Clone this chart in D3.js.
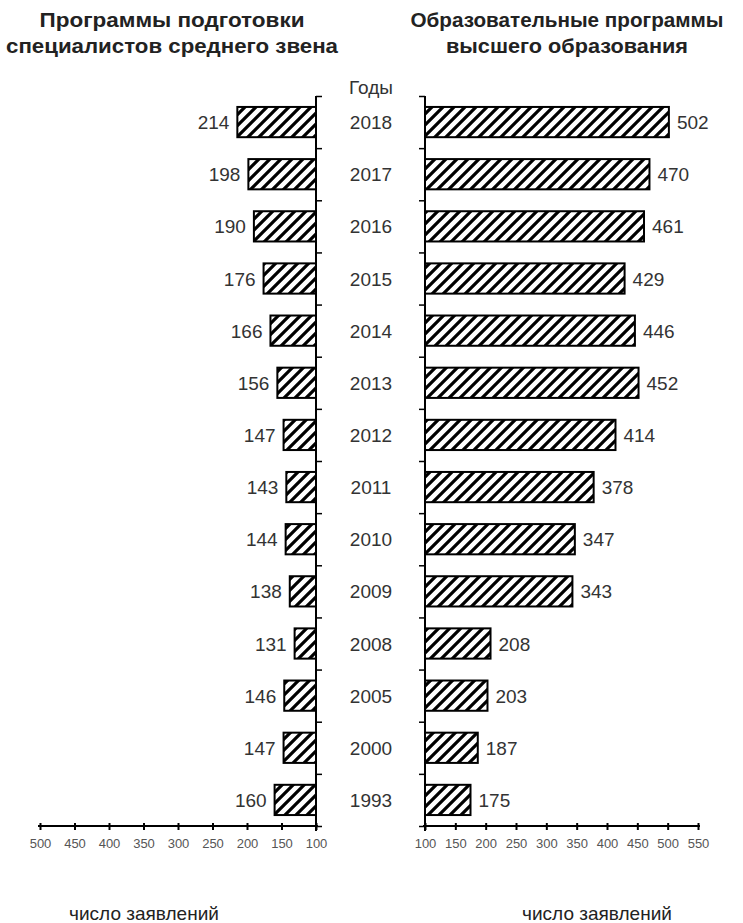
<!DOCTYPE html>
<html>
<head>
<meta charset="utf-8">
<script src="https://cdnjs.cloudflare.com/ajax/libs/d3/7.8.5/d3.min.js"></script>
<style>
  body { margin: 0; background: #fff; }
  svg text { font-family: "Liberation Sans", Arial, sans-serif; }
</style>
</head>
<body>
<script>
// data (top to bottom)
var years = ["2018", "2017", "2016", "2015", "2014", "2013", "2012", "2011", "2010", "2009", "2008", "2005", "2000", "1993"];
var spoValues = [214, 198, 190, 176, 166, 156, 147, 143, 144, 138, 131, 146, 147, 160];
var voValues = [502, 470, 461, 429, 446, 452, 414, 378, 347, 343, 208, 203, 187, 175];
var leftTicks = [500, 450, 400, 350, 300, 250, 200, 150, 100];
var rightTicks = [100, 150, 200, 250, 300, 350, 400, 450, 500, 550];

var width = 743, height = 923;

var svg = d3.select("body").append("svg")
    .attr("width", width)
    .attr("height", height);

// hatch fill
var defs = svg.append("defs");
defs.append("pattern")
    .attr("id", "hatch")
    .attr("patternUnits", "userSpaceOnUse")
    .attr("width", 11).attr("height", 11)
  .append("path")
    .attr("d", "M0,11 L11,0 M-3,3 L3,-3 M8,14 L14,8")
    .attr("stroke", "#000")
    .attr("stroke-width", 3.2);

var yTop = 96, yBottom = 826;

var y = d3.scaleBand()
    .domain(years)
    .range([yTop, yBottom])
    .paddingInner(0.42)
    .paddingOuter(0.21);

// band boundaries for the small ticks on the vertical axes
var yEdge = d3.scaleLinear().domain([0, years.length]).range([yTop, yBottom]);

var xL = d3.scaleLinear().domain([500, 100]).range([40, 316]);
var xR = d3.scaleLinear().domain([100, 550]).range([425, 698]);

// titles
function title(cx, lines, lens) {
  var t = svg.append("text")
      .attr("text-anchor", "middle")
      .style("font-size", "20px").style("font-weight", "bold").attr("fill", "#222");
  lines.forEach(function(s, i) {
    t.append("tspan")
      .attr("x", cx).attr("y", 27 + i * 26)
      .attr("textLength", lens[i]).attr("lengthAdjust", "spacingAndGlyphs")
      .text(s);
  });
}
title(172, ["Программы подготовки", "специалистов среднего звена"], [265, 332]);
title(567, ["Образовательные программы", "высшего образования"], [313, 242]);

svg.append("text")
    .attr("x", 371).attr("y", 94)
    .attr("text-anchor", "middle")
    .style("font-size", "19px").attr("fill", "#333")
    .text("Годы");

// left bars
svg.append("g").selectAll("rect")
    .data(spoValues)
    .enter().append("rect")
    .attr("x", function(d) { return xL(d); })
    .attr("y", function(d, i) { return y(years[i]); })
    .attr("width", function(d) { return xL(100) - xL(d); })
    .attr("height", y.bandwidth())
    .attr("fill", "url(#hatch)")
    .attr("stroke", "#000")
    .attr("stroke-width", 2);

svg.append("g").selectAll("text")
    .data(spoValues)
    .enter().append("text")
    .attr("x", function(d) { return xL(d) - 8; })
    .attr("y", function(d, i) { return y(years[i]) + y.bandwidth() / 2 + 7; })
    .attr("text-anchor", "end")
    .style("font-size", "19px").attr("fill", "#333")
    .text(function(d) { return d; });

// right bars
svg.append("g").selectAll("rect")
    .data(voValues)
    .enter().append("rect")
    .attr("x", xR(100))
    .attr("y", function(d, i) { return y(years[i]); })
    .attr("width", function(d) { return xR(d) - xR(100); })
    .attr("height", y.bandwidth())
    .attr("fill", "url(#hatch)")
    .attr("stroke", "#000")
    .attr("stroke-width", 2);

svg.append("g").selectAll("text")
    .data(voValues)
    .enter().append("text")
    .attr("x", function(d) { return xR(d) + 8; })
    .attr("y", function(d, i) { return y(years[i]) + y.bandwidth() / 2 + 7; })
    .style("font-size", "19px").attr("fill", "#333")
    .text(function(d) { return d; });

// year labels in the middle
svg.append("g").selectAll("text")
    .data(years)
    .enter().append("text")
    .attr("x", 371)
    .attr("y", function(d) { return y(d) + y.bandwidth() / 2 + 7; })
    .attr("text-anchor", "middle")
    .style("font-size", "19px").attr("fill", "#333")
    .text(function(d) { return d; });

// vertical axes
var axL = svg.append("g")
    .attr("transform", "translate(" + xL(100) + ",0)")
    .call(d3.axisRight(yEdge).ticks(years.length).tickSize(6).tickFormat(""));
var axR = svg.append("g")
    .attr("transform", "translate(" + xR(100) + ",0)")
    .call(d3.axisLeft(yEdge).ticks(years.length).tickSize(6).tickFormat(""));
[axL, axR].forEach(function(a) {
  a.select(".domain").attr("d", "M0," + yTop + "V" + (yBottom + 5)).attr("stroke-width", 2);
  a.selectAll(".tick line").attr("stroke-width", 1.5);
});

// horizontal axes
function styleX(a, x0, x1) {
  a.select(".domain").attr("d", "M" + x0 + ",0H" + x1).attr("stroke-width", 2.2);
  a.selectAll(".tick line").attr("y1", -3).attr("y2", 4).attr("stroke-width", 2);
  a.selectAll(".tick text").attr("dy", "0.71em").attr("y", 13)
    .style("font-size", "13px").attr("fill", "#555");
}
var bxL = svg.append("g")
    .attr("transform", "translate(0," + yBottom + ")")
    .call(d3.axisBottom(xL).tickValues(leftTicks).tickSize(4));
styleX(bxL, xL(500) - 2, xL(100) + 2);

var bxR = svg.append("g")
    .attr("transform", "translate(0," + yBottom + ")")
    .call(d3.axisBottom(xR).tickValues(rightTicks).tickSize(4));
styleX(bxR, xR(100) - 2, xR(550) + 2);

// axis captions
svg.append("text")
    .attr("x", 144).attr("y", 920)
    .attr("text-anchor", "middle")
    .style("font-size", "19px").attr("fill", "#222")
    .text("число заявлений");
svg.append("text")
    .attr("x", 597).attr("y", 920)
    .attr("text-anchor", "middle")
    .style("font-size", "19px").attr("fill", "#222")
    .text("число заявлений");
</script>
</body>
</html>
